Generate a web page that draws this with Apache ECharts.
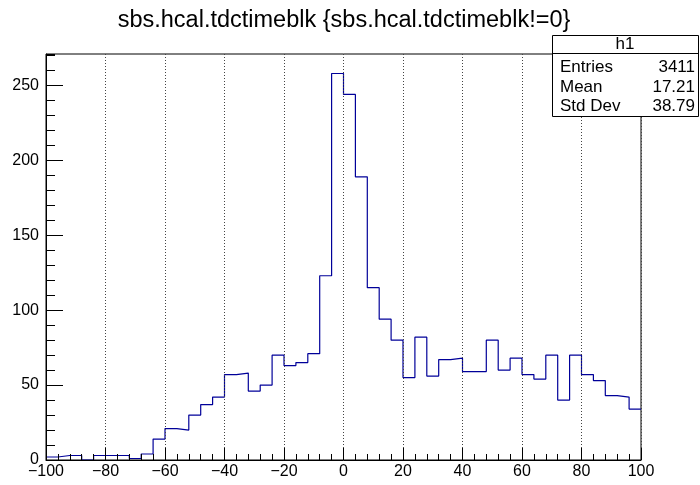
<!DOCTYPE html>
<html><head><meta charset="utf-8">
<script src="https://cdn.jsdelivr.net/npm/echarts@6/dist/echarts.min.js"></script>
<style>html,body{margin:0;padding:0;background:#fff}#c{width:700px;height:485px}</style>
</head><body><div id="c"></div>
<script>
const titleText = 'sbs.hcal.tdctimeblk {sbs.hcal.tdctimeblk!=0}';
const binLowEdges = [-100,-96,-92,-88,-84,-80,-76,-72,-68,-64,-60,-56,-52,-48,-44,-40,-36,-32,-28,-24,-20,-16,-12,-8,-4,0,4,8,12,16,20,24,28,32,36,40,44,48,52,56,60,64,68,72,76,80,84,88,92,96];
const lastBinUpperEdge = 100;
const counts = [2,3,3,0,3,3,3,1,4,14,21,20,30,37,42,57,58,46,50,70,63,65,71,123,258,244,189,115,94,80,55,82,56,67,68,59,59,80,60,68,57,54,70,40,70,57,53,43,42,34];
const statsName = 'h1';
const statsLabels = ['Entries', 'Mean', 'Std Dev'];
const statsValues = ['3411', '17.21', '38.79'];
const xRange = [-100, 100];
const yMax = 271;

const font = 'Liberation Sans';
const stepData = binLowEdges.map((x, i) => [x, counts[i]]).concat([[lastBinUpperEdge, counts[counts.length - 1]]]);

const chart = echarts.init(document.getElementById('c'), null, {renderer: 'canvas'});

const statsGraphics = [
  {type: 'rect', shape: {x: 552.5, y: 35.5, width: 146, height: 81}, style: {fill: '#fff', stroke: '#000', lineWidth: 1}, z: 100},
  {type: 'line', shape: {x1: 552.5, y1: 53.5, x2: 698.5, y2: 53.5}, style: {stroke: '#000', lineWidth: 1}, z: 101},
  {type: 'text', x: 625, y: 53, style: {text: statsName, font: '17px "' + font + '"', fill: '#000', textAlign: 'center', textVerticalAlign: 'bottom'}, z: 102}
];
statsLabels.forEach((lab, i) => {
  const y = 76 + i * 19.5;
  statsGraphics.push({type: 'text', x: 560, y: y, style: {text: lab, font: '17px "' + font + '"', fill: '#000', textAlign: 'left', textVerticalAlign: 'bottom'}, z: 102});
  statsGraphics.push({type: 'text', x: 695, y: y, style: {text: statsValues[i], font: '17px "' + font + '"', fill: '#000', textAlign: 'right', textVerticalAlign: 'bottom'}, z: 102});
});

chart.setOption({
  animation: false,
  backgroundColor: '#fff',
  title: {
    text: titleText, left: 339, top: 4, textAlign: 'center',
    textStyle: {fontFamily: font, fontWeight: 'normal', fontSize: 23.5, color: '#000'}
  },
  grid: {left: 46, right: 59, top: 54, bottom: 25, show: true, borderColor: '#000', borderWidth: 1, backgroundColor: 'transparent'},
  xAxis: {
    type: 'value', min: xRange[0], max: xRange[1], interval: 20, z: 5,
    axisLine: {show: true, onZero: false, lineStyle: {color: '#000', width: 1}},
    axisTick: {show: true, inside: true, length: 12, lineStyle: {color: '#000'}},
    minorTick: {show: true, splitNumber: 5, length: 6, lineStyle: {color: '#000'}},
    splitLine: {show: true, lineStyle: {color: '#444', type: [1, 2], width: 1}},
    axisLabel: {color: '#000', fontFamily: font, fontSize: 16, margin: 4,
      formatter: v => String(v).replace('-', '\u2212')}
  },
  yAxis: [{
    type: 'value', min: 0, max: yMax, interval: 50, z: 5,
    axisLine: {show: true, onZero: false, lineStyle: {color: '#000', width: 1}},
    axisTick: {show: true, inside: true, length: 17, lineStyle: {color: '#000'}},
    splitLine: {show: false},
    axisLabel: {color: '#000', fontFamily: font, fontSize: 16, margin: 7, showMaxLabel: false}
  }, {
    type: 'value', min: 0, max: yMax, interval: 10, position: 'left', z: 5,
    axisLine: {show: false, onZero: false},
    axisTick: {show: true, inside: true, length: 9, lineStyle: {color: '#000'}},
    splitLine: {show: false},
    axisLabel: {show: false}
  }],
  series: [{
    type: 'line', step: 'end', data: stepData, yAxisIndex: 0,
    symbol: 'none', lineStyle: {color: '#000099', width: 1.2}, z: 2
  }],
  graphic: statsGraphics
});
</script></body></html>
